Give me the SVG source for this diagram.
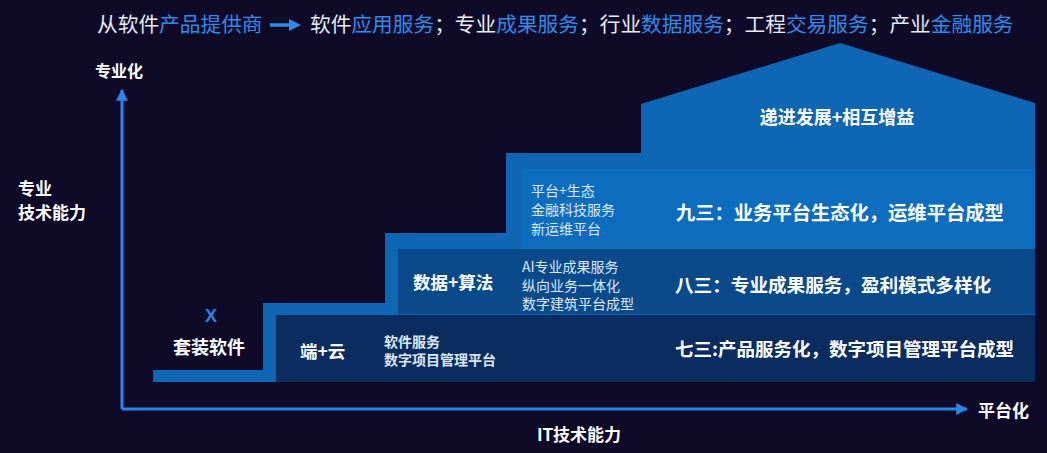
<svg xmlns="http://www.w3.org/2000/svg" width="1047" height="453" viewBox="0 0 1047 453">
<defs>
<style>
text{font-family:"Noto Sans CJK SC","Noto Sans",sans-serif;}
.b{fill:#ffffff;font-weight:bold;dominant-baseline:central;}
.s{fill:#dfe8f6;font-size:14px;dominant-baseline:central;}
.t{font-size:20.7px;fill:#e6ecf6;}
.h{fill:#2e8ce8;}
.ax{stroke:#2a86e6;stroke-width:3;fill:none;}
</style>
<marker id="ah" viewBox="0 0 10 10" refX="9" refY="5" markerWidth="4" markerHeight="4" orient="auto" markerUnits="strokeWidth">
<path d="M0,0 L10,5 L0,10 z" fill="#2a86e6"/>
</marker>
</defs>
<rect width="1047" height="453" fill="#0f0a28"/>

<g id="title">
<text class="t" x="97" y="32">从软件<tspan class="h">产品提供商</tspan></text>
<path d="M270,25 L291,25" stroke="#2e8ce8" stroke-width="3.5"/>
<path d="M289,19 L301,25 L289,31 z" fill="#2e8ce8"/>
<text class="t" x="310" y="32">软件<tspan class="h">应用服务</tspan>；专业<tspan class="h">成果服务</tspan>；行业<tspan class="h">数据服务</tspan>；工程<tspan class="h">交易服务</tspan>；产业<tspan class="h">金融服务</tspan></text>
</g>

<g id="staircase">
<path d="M153,370 L263,370 L263,303 L385,303 L385,233 L506,233 L506,153 L641,153 L641,104 L840,43 L1035,103 L1035,382 L153,382 Z" fill="#0f66b4"/>
</g>

<g id="layer-jiu">
<rect x="522" y="169" width="513" height="80" fill="#0c6dbf"/>
<text class="s" x="531" y="190">平台+生态</text>
<text class="s" x="531" y="209">金融科技服务</text>
<text class="s" x="531" y="228">新运维平台</text>
<text class="b" x="676" y="212" font-size="19.3">九三：业务平台生态化，运维平台成型</text>
</g>

<g id="layer-ba">
<rect x="398" y="249" width="637" height="65" fill="#0b4a8a"/>
<text class="b" x="413" y="281" font-size="17.5">数据+算法</text>
<text class="s" x="522" y="266">AI专业成果服务</text>
<text class="s" x="522" y="285">纵向业务一体化</text>
<text class="s" x="522" y="303">数字建筑平台成型</text>
<text class="b" x="675" y="283" font-size="18.6">八三：专业成果服务，盈利模式多样化</text>
</g>

<g id="layer-qi">
<rect x="276" y="315" width="759" height="67" fill="#0b2c5e"/>
<text class="b" x="300" y="350" font-size="17.5">端+云</text>
<text class="s" x="384" y="341" font-weight="bold" font-size="13.5">软件服务</text>
<text class="s" x="384" y="359" font-weight="bold" font-size="13.5">数字项目管理平台</text>
<text class="b" x="675" y="348" font-size="18.5">七三:产品服务化，数字项目管理平台成型</text>
</g>

<g id="roof">
<text class="b" x="837" y="116" font-size="18" text-anchor="middle">递进发展+相互增益</text>
</g>

<g id="package">
<text x="211" y="316" font-size="18" font-weight="bold" fill="#2e80e4" text-anchor="middle" dominant-baseline="central" style="font-family:'Liberation Sans',sans-serif">X</text>
<text class="b" x="209" y="346" font-size="18" text-anchor="middle">套装软件</text>
</g>

<g id="connectors">
<path class="ax" d="M122,409 L122,90" marker-end="url(#ah)"/>
<path class="ax" d="M122,409 L967,409" marker-end="url(#ah)"/>
</g>

<g id="axis-labels">
<text class="b" x="95" y="70" font-size="16">专业化</text>
<text class="b" x="18" y="187" font-size="17">专业</text>
<text class="b" x="18" y="211" font-size="17">技术能力</text>
<text class="b" x="978" y="409" font-size="17">平台化</text>
<text class="b" x="579" y="433" font-size="17" text-anchor="middle">IT技术能力</text>
</g>
</svg>
